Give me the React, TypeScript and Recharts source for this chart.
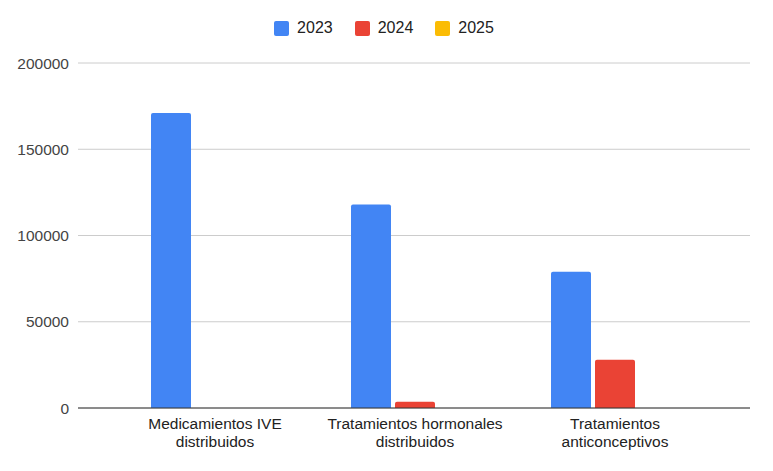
import { Bar, BarChart, CartesianGrid, Legend, Text, XAxis, YAxis } from "recharts";

const categories = [
  "Medicamientos IVE distribuidos",
  "Tratamientos hormonales distribuidos",
  "Tratamientos anticonceptivos",
];
const values2023 = [171000, 118000, 79000];
const values2024 = [0, 3600, 28000];
const values2025 = [0, 0, 0];
const yTicks = [0, 50000, 100000, 150000, 200000];

const series = [
  { key: "y2023", name: "2023", color: "#4285F4" },
  { key: "y2024", name: "2024", color: "#EA4335" },
  { key: "y2025", name: "2025", color: "#FBBC04" },
];

const data = categories.map((name, i) => ({
  name,
  y2023: values2023[i],
  y2024: values2024[i],
  y2025: values2025[i],
}));

const FONT = "'Liberation Sans', Arial, sans-serif";

function CategoryTick(props: any) {
  const { x, y, payload } = props;
  return (
    <Text
      x={x}
      y={y + 2}
      width={185}
      textAnchor="middle"
      verticalAnchor="start"
      lineHeight={18}
      fontSize={15.5}
      fontFamily={FONT}
      fill="#222"
    >
      {payload.value}
    </Text>
  );
}

function LegendContent() {
  return (
    <div
      style={{
        display: "flex",
        justifyContent: "center",
        paddingLeft: 18,
        fontFamily: FONT,
        fontSize: 16,
        color: "#222",
      }}
    >
      {series.map((s) => (
        <div key={s.key} style={{ display: "flex", alignItems: "center", margin: "0 11px" }}>
          <span
            style={{
              display: "inline-block",
              width: 15,
              height: 15,
              borderRadius: 2,
              background: s.color,
              marginRight: 8,
            }}
          />
          <span>{s.name}</span>
        </div>
      ))}
    </div>
  );
}

export default function App() {
  return (
    <div style={{ position: "absolute", left: 0, top: 0, background: "#fff" }}>
      <BarChart
        width={773}
        height={471}
        data={data}
        margin={{ top: 63, right: 23, bottom: 0, left: 0 }}
        barCategoryGap="18%"
        barGap={4}
      >
        <CartesianGrid vertical={false} stroke="#cccccc" />
        <XAxis
          dataKey="name"
          height={63}
          tick={<CategoryTick />}
          tickLine={false}
          axisLine={{ stroke: "#333333" }}
          interval={0}
          padding={{ left: 37, right: 35 }}
        />
        <YAxis
          width={78}
          domain={[0, 200000]}
          ticks={yTicks}
          tickLine={false}
          axisLine={false}
          tickSize={0}
          tickMargin={9}
          tick={{ fontSize: 15.5, fill: "#444", fontFamily: FONT }}
        />
        <Legend verticalAlign="middle" align="center" content={<LegendContent />} wrapperStyle={{ top: 19 }} />
        {series.map((s) => (
          <Bar
            key={s.key}
            dataKey={s.key}
            name={s.name}
            fill={s.color}
            radius={[2, 2, 0, 0]}
            isAnimationActive={false}
          />
        ))}
      </BarChart>
    </div>
  );
}
